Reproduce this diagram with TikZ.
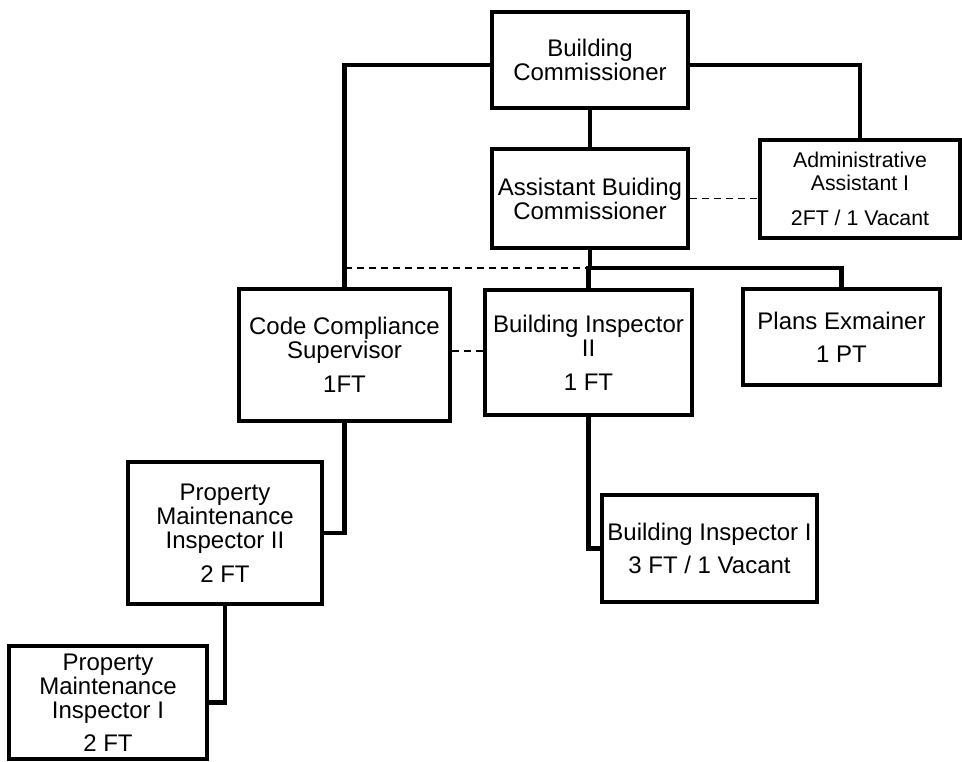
\documentclass[tikz,border=0pt]{standalone}
\usepackage{fontspec}
\setmainfont{Liberation Sans}
\begin{document}
\begin{tikzpicture}[x=1pt,y=-1pt,
  box/.style={draw=black, line width=4pt, rectangle, inner sep=0pt, align=center,
              font=\fontsize{24}{24}\selectfont},
  smallbox/.style={box, font=\fontsize{21.3}{23}\selectfont},
  conn/.style={line width=4.5pt},
  dashc/.style={line width=1.8pt, dash pattern=on 7pt off 5pt}]
\useasboundingbox (0,0) rectangle (962,762);

\node[box, minimum width=196pt, minimum height=96pt] (BC) at (590,60) {Building\\Commissioner};
\node[box, minimum width=196pt, minimum height=99pt] (ABC) at (590,198.5) {Assistant Buiding\\Commissioner};
\node[smallbox, minimum width=200pt, minimum height=98pt] (ADM) at (860,189) {Administrative\\Assistant I\\[12pt]2FT / 1 Vacant};
\node[box, minimum width=211pt, minimum height=132pt] (CCS) at (344.5,355) {Code Compliance\\Supervisor\\[10pt]1FT};
\node[box, minimum width=207pt, minimum height=125pt] (BI2) at (588.5,352.5) {Building Inspector\\II\\[10pt]1 FT};
\node[box, minimum width=197pt, minimum height=96pt] (PE) at (841.5,337) {Plans Exmainer\\[9pt]1 PT};
\node[box, minimum width=194pt, minimum height=142pt] (PMI2) at (225,533) {Property\\Maintenance\\Inspector II\\[10pt]2 FT};
\node[box, minimum width=198pt, minimum height=113pt] (PMI1) at (108,702.5) {Property\\Maintenance\\Inspector I\\[9pt]2 FT};
\node[box, minimum width=215pt, minimum height=107pt] (BI1) at (709.5,548.5) {Building Inspector I\\[9pt]3 FT / 1 Vacant};

\coordinate (bus) at (590,268);

\draw[conn] ([yshift=-5pt]BC.west) -| (CCS.north);
\draw[conn] ([yshift=-5pt]BC.east) -| (ADM.north);
\draw[conn] (BC.south) -- (ABC.north);
\draw[conn] (ABC.south) -- (ABC.south |- bus);
\draw[conn] (BI2.north) |- (PE.north |- bus) -- (PE.north);
\draw[dashc] (CCS.north |- bus) -- (BI2.north |- bus);
\draw[dashc] (ABC.east) -- (ABC.east -| ADM.west);
\draw[dashc] ([yshift=4pt]CCS.east) -- ([yshift=4pt]CCS.east -| BI2.west);
\draw[conn] (CCS.south) |- (PMI2.east);
\draw[conn] (PMI2.south) |- (PMI1.east);
\draw[conn] (BI2.south) |- (BI1.west);
\end{tikzpicture}
\end{document}
